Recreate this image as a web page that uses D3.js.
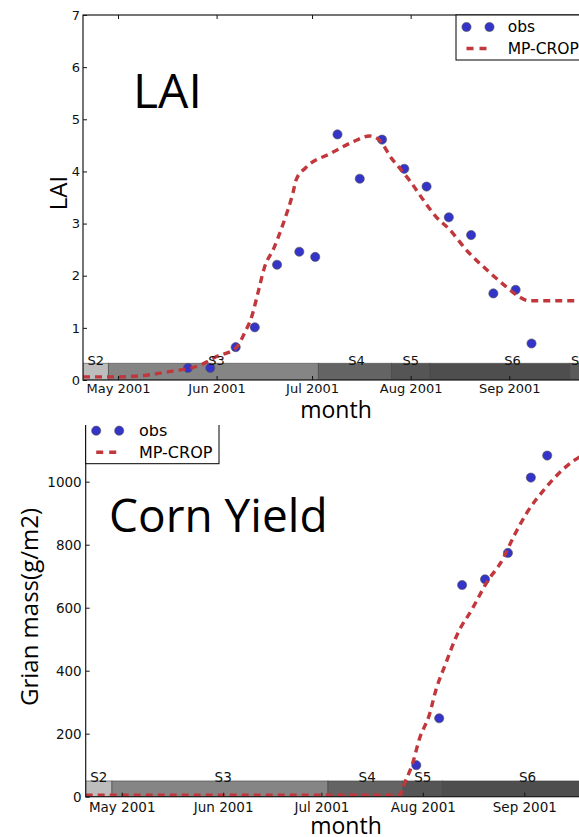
<!DOCTYPE html>
<html>
<head>
<meta charset="utf-8">
<script src="https://cdn.jsdelivr.net/npm/d3@7"></script>
<style>
  body { margin: 0; background: #fff; }
  svg { display: block; }
</style>
</head>
<body>
<div id="chart"></div>
<script>
var parse = d3.utcParse("%Y-%m-%d");

// LAI panel
var laiObsDates = ["2001-05-23","2001-05-30","2001-06-07","2001-06-13","2001-06-20","2001-06-27","2001-07-02",
                   "2001-07-09","2001-07-16","2001-07-23","2001-07-30","2001-08-06","2001-08-13","2001-08-20",
                   "2001-08-27","2001-09-03","2001-09-08"];
var laiObs = [0.23, 0.23, 0.63, 1.01, 2.21, 2.46, 2.36, 4.71, 3.86, 4.61, 4.05, 3.71, 3.12, 2.78, 1.66, 1.73, 0.70];

var laiModelDates = ["2001-04-20","2001-05-01","2001-05-11","2001-05-17","2001-05-27","2001-06-01","2001-06-07",
                     "2001-06-10","2001-06-12","2001-06-14","2001-06-16","2001-06-19","2001-06-22","2001-06-25",
                     "2001-06-26","2001-06-29","2001-07-07","2001-07-14","2001-07-19","2001-07-22","2001-07-26",
                     "2001-07-29","2001-08-01","2001-08-05","2001-08-09","2001-08-13","2001-08-19","2001-08-25",
                     "2001-08-31","2001-09-04","2001-09-07","2001-10-01"];
var laiModel = [0.06, 0.06, 0.10, 0.16, 0.29, 0.45, 0.61, 0.93, 1.21, 1.67, 2.15, 2.53, 3.01, 3.59,
                3.84, 4.07, 4.35, 4.57, 4.68, 4.61, 4.25, 4.03, 3.80, 3.45, 3.13, 2.90, 2.46, 2.11,
                1.79, 1.60, 1.52, 1.52];

// Corn yield panel
var yieldObsDates = ["2001-07-30","2001-08-06","2001-08-13","2001-08-20","2001-08-27","2001-09-03","2001-09-08"];
var yieldObs = [100, 249, 672, 690, 774, 1013, 1083];

var yieldModelDates = ["2001-04-20","2001-07-25","2001-07-26","2001-07-29","2001-07-31","2001-08-03","2001-08-05",
                       "2001-08-08","2001-08-11","2001-08-13","2001-08-15","2001-08-21","2001-08-25","2001-08-29",
                       "2001-09-02","2001-09-07","2001-09-16","2001-09-20"];
var yieldModel = [5, 5, 32, 110, 185, 260, 339, 423, 503, 545, 577, 688, 746, 831, 905, 974, 1066, 1090];

// growth stages
var stageNames = ["S2","S3","S4","S5","S6","S7"];
var stageStart = ["2001-04-20","2001-04-28","2001-07-03","2001-07-26","2001-08-07","2001-09-20"];
var stageEnd = ["2001-04-28","2001-07-03","2001-07-26","2001-08-07","2001-09-20","2001-10-20"];
var stageLabelAt = ["2001-04-24","2001-06-01","2001-07-15","2001-08-01","2001-09-02","2001-09-23"];

var monthTicks = ["2001-05-01","2001-06-01","2001-07-01","2001-08-01","2001-09-01"];
var laiTicks = [0, 1, 2, 3, 4, 5, 6, 7];
var yieldTicks = [0, 200, 400, 600, 800, 1000, 1200];

var stageColors = ["#bdbdbd", "#858585", "#646464", "#555555", "#4e4e4e", "#5a5a5a"];
var obsColor = "#3434c8",
    modelColor = "#c1373c";

var svg = d3.select("#chart").append("svg")
    .attr("width", 579)
    .attr("height", 837);

var defs = svg.append("defs");

function drawPanel(p) {
  var x = d3.scaleUtc()
      .domain([parse("2001-04-20"), parse("2001-10-01")])
      .range([p.left, p.right]);
  var y = d3.scaleLinear()
      .domain([0, p.ymax])
      .range([p.bottom, p.top]);

  defs.append("clipPath").attr("id", p.id + "-panel")
    .append("rect")
      .attr("x", 0).attr("y", p.clipTop)
      .attr("width", 579).attr("height", 837 - p.clipTop);
  defs.append("clipPath").attr("id", p.id + "-plot")
    .append("rect")
      .attr("x", p.left).attr("y", p.top)
      .attr("width", p.right - p.left).attr("height", p.bottom - p.top);

  var g = svg.append("g").attr("clip-path", "url(#" + p.id + "-panel)");
  var plot = g.append("g").attr("clip-path", "url(#" + p.id + "-plot)");

  // stage bars
  var stages = stageNames.map(function(s, i) {
    return {name: s, start: parse(stageStart[i]), end: parse(stageEnd[i]), at: parse(stageLabelAt[i]), color: stageColors[i]};
  });
  plot.selectAll(".stage")
    .data(stages)
    .enter().append("rect")
      .attr("class", "stage")
      .attr("x", function(d) { return x(d.start); })
      .attr("width", function(d) { return x(d.end) - x(d.start); })
      .attr("y", y(p.barTop))
      .attr("height", y(0) - y(p.barTop))
      .style("fill", function(d) { return d.color; })
      .style("stroke", "#3c3c3c")
      .style("stroke-opacity", 0.55)
      .style("stroke-width", 1);

  g.selectAll(".stage-label")
    .data(stages)
    .enter().append("text")
      .attr("class", "stage-label")
      .attr("x", function(d) { return x(d.at); })
      .attr("y", y(p.barTop) + 1.5)
      .attr("text-anchor", "middle")
      .style("font-family", "DejaVu Sans")
      .style("font-size", p.tickFont + "px")
      .style("fill", "#111")
      .text(function(d) { return d.name; });

  // observations
  var obs = p.obsDates.map(function(d, i) { return {date: parse(d), value: p.obs[i]}; });
  plot.selectAll(".obs")
    .data(obs)
    .enter().append("circle")
      .attr("class", "obs")
      .attr("cx", function(d) { return x(d.date); })
      .attr("cy", function(d) { return y(d.value); })
      .attr("r", 4.6)
      .style("fill", obsColor)
      .style("stroke", "#555")
      .style("stroke-width", 0.6);

  // model
  var model = p.modelDates.map(function(d, i) { return {date: parse(d), value: p.model[i]}; });
  var line = d3.line()
      .curve(d3.curveMonotoneX)
      .x(function(d) { return x(d.date); })
      .y(function(d) { return y(d.value); });
  plot.append("path")
      .datum(model)
      .attr("d", line)
      .style("fill", "none")
      .style("stroke", modelColor)
      .style("stroke-width", 3.4)
      .style("stroke-dasharray", "7,5");

  // axes (ticks point inwards)
  var fmt = d3.utcFormat("%b %Y");
  var xb = g.append("g")
      .attr("transform", "translate(0," + p.bottom + ")")
      .call(d3.axisBottom(x).tickValues(monthTicks.map(parse)).tickFormat(fmt)
            .tickSizeInner(-4).tickSizeOuter(0).tickPadding(p.xPad));
  var xt = g.append("g")
      .attr("transform", "translate(0," + p.top + ")")
      .call(d3.axisTop(x).tickValues(monthTicks.map(parse)).tickFormat("")
            .tickSizeInner(-4).tickSizeOuter(0));
  var yl = g.append("g")
      .attr("transform", "translate(" + p.left + ",0)")
      .call(d3.axisLeft(y).tickValues(p.yTicks).tickFormat(d3.format("d"))
            .tickSizeInner(-4).tickSizeOuter(0).tickPadding(p.yPad));
  [xb, xt, yl].forEach(function(a) {
    a.select(".domain").remove();
    a.selectAll("line").style("stroke", "#111");
    a.selectAll("text")
        .style("font-family", "DejaVu Sans")
        .style("font-size", p.tickFont + "px")
        .style("fill", "#111");
  });

  // spines
  g.append("rect")
      .attr("x", p.left).attr("y", p.top)
      .attr("width", p.right - p.left).attr("height", p.bottom - p.top)
      .style("fill", "none")
      .style("stroke", "#1a1a1a")
      .style("stroke-width", 1.2);

  // big in-plot title
  g.append("text")
      .attr("x", p.titleX).attr("y", p.titleY)
      .style("font-family", "Open Sans")
      .style("font-size", p.titleSize + "px")
      .style("fill", "#000")
      .text(p.title);

  g.append("text")
      .attr("transform", "translate(" + p.ylabelX + "," + p.ylabelY + ") rotate(-90)")
      .attr("text-anchor", "middle")
      .style("font-family", "Open Sans")
      .style("font-size", p.labelSize + "px")
      .style("fill", "#000")
      .text(p.ylabel);

  g.append("text")
      .attr("x", p.xlabelX).attr("y", p.xlabelY)
      .attr("text-anchor", "middle")
      .style("font-family", "Open Sans")
      .style("font-size", (p.labelSize - 1) + "px")
      .style("fill", "#000")
      .text("month");

  // legend
  var lg = g.append("g").attr("transform", "translate(" + p.legendX + "," + p.top + ")");
  lg.append("rect")
      .attr("width", p.legendW).attr("height", 45)
      .style("fill", "#fff")
      .style("stroke", "#000")
      .style("stroke-width", 1);
  lg.selectAll(".lg-dot")
    .data([10.5, 33.5])
    .enter().append("circle")
      .attr("cx", function(d) { return d; })
      .attr("cy", 12)
      .attr("r", 4.6)
      .style("fill", obsColor)
      .style("stroke", "#555")
      .style("stroke-width", 0.6);
  lg.append("line")
      .attr("x1", 10.5).attr("x2", 30.5)
      .attr("y1", 33.5).attr("y2", 33.5)
      .style("stroke", modelColor)
      .style("stroke-width", 3.4)
      .style("stroke-dasharray", "7,6");
  lg.selectAll(".lg-text")
    .data(["obs", "MP-CROP"])
    .enter().append("text")
      .attr("x", p.legendTextX)
      .attr("y", function(d, i) { return 12 + i * 21.5; })
      .attr("dy", "0.35em")
      .style("font-family", "DejaVu Sans")
      .style("font-size", p.legendFont + "px")
      .style("fill", "#000")
      .text(function(d) { return d; });
}

drawPanel({
  id: "lai", left: 83, right: 604.7, top: 15, bottom: 380, clipTop: 0,
  ymax: 7, yTicks: laiTicks, barTop: 0.32,
  obsDates: laiObsDates, obs: laiObs, modelDates: laiModelDates, model: laiModel,
  xPad: 4, yPad: 3, tickFont: 13,
  title: "LAI", titleX: 133, titleY: 108, titleSize: 48,
  ylabel: "LAI", ylabelX: 67, ylabelY: 193, labelSize: 24, xlabelX: 336, xlabelY: 418,
  legendX: 456, legendW: 140, legendTextX: 51.7, legendFont: 15.5
});

drawPanel({
  id: "yield", left: 85.7, right: 622.5, top: 418.7, bottom: 796.7, clipTop: 425,
  ymax: 1200, yTicks: yieldTicks, barTop: 50,
  obsDates: yieldObsDates, obs: yieldObs, modelDates: yieldModelDates, model: yieldModel,
  xPad: 5.4, yPad: 4, tickFont: 13.5,
  title: "Corn Yield", titleX: 109, titleY: 532, titleSize: 46,
  ylabel: "Grian mass(g/m2)", ylabelX: 38, ylabelY: 607, labelSize: 24, xlabelX: 346, xlabelY: 834,
  legendX: 85.7, legendW: 133.3, legendTextX: 53.3, legendFont: 16
});
</script>
</body>
</html>
